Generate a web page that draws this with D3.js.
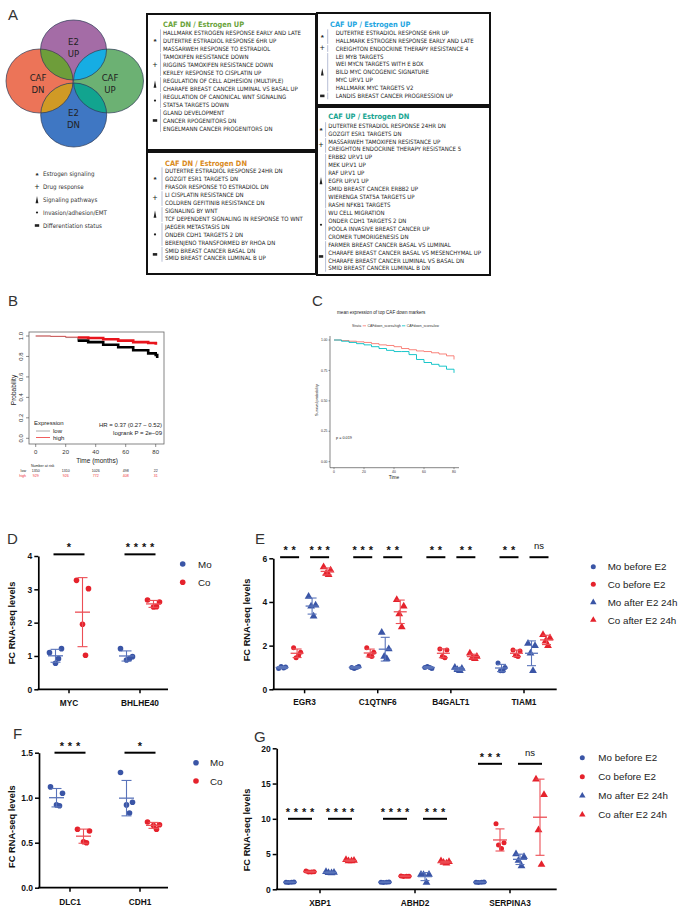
<!DOCTYPE html>
<html><head><meta charset="utf-8">
<script src="https://cdn.jsdelivr.net/npm/d3@7"></script>
<style>body{margin:0;background:#fff}svg{display:block}</style>
</head><body>
<svg id="fig" width="685" height="908"></svg>
<script>
// ---------------- DATA ----------------
const vennLabels = [["E2","UP"],["CAF","DN"],["CAF","UP"],["E2","DN"]];
const legendCategories = ["Estrogen signaling","Drug response","Signaling pathways","Invasion/adhesion/EMT","Differentiation status"];

const dnUpTitle = "CAF DN / Estrogen  UP";
const dnUpItems = ["HALLMARK ESTROGEN RESPONSE EARLY AND LATE","DUTERTRE ESTRADIOL RESPONSE 6HR UP","MASSARWEH RESPONSE TO ESTRADIOL","TAMOXIFEN RESISTANCE DOWN","RIGGINS TAMOXIFEN RESISTANCE DOWN","KERLEY RESPONSE TO CISPLATIN UP","REGULATION OF CELL ADHESION (MULTIPLE)","CHARAFE BREAST CANCER LUMINAL VS BASAL UP","REGULATION OF CANONICAL WNT SIGNALING","STAT5A TARGETS DOWN","GLAND DEVELOPMENT","CANCER RPOGENITORS DN","ENGELMANN CANCER PROGENITORS DN"];
const dnUpGroups = [3,3,2,2,3];
const dnUpTypes = [0,1,2,3,4];

const dnDnTitle = "CAF DN / Estrogen  DN";
const dnDnItems = ["DUTERTRE ESTRADIOL RESPONSE 24HR DN","GOZGIT ESR1 TARGETS DN","FRASOR RESPONSE TO ESTRADIOL DN","LI CISPLATIN RESISTANCE DN","COLDREN GEFITINIB RESISTANCE DN","SIGNALING BY WNT","TCF DEPENDENT SIGNALING IN RESPONSE TO WNT","JAEGER METASTASIS DN","ONDER CDH1 TARGETS 2 DN","BERENJENO TRANSFORMED BY RHOA DN","SMID BREAST CANCER BASAL DN","SMID BREAST CANCER LUMINAL B UP"];
const dnDnGroups = [3,2,2,3,2];
const dnDnTypes = [0,1,2,3,4];

const upUpTitle = "CAF UP / Estrogen  UP";
const upUpItems = ["DUTERTRE ESTRADIOL RESPONSE 6HR UP","HALLMARK ESTROGEN RESPONSE EARLY AND LATE","CREIGHTON ENDOCRINE THERAPY RESISTANCE 4","LEI MYB TARGETS","WEI MYCN TARGETS WITH E BOX","BILD MYC ONCOGENIC SIGNATURE","MYC UP.V1 UP","HALLMARK MYC TARGETS V2","LANDIS BREAST CANCER PROGRESSION UP"];
const upUpGroups = [2,1,5,1];
const upUpTypes = [0,1,2,4];

const upDnTitle = "CAF UP / Estrogen  DN";
const upDnItems = ["DUTERTRE ESTRADIOL RESPONSE 24HR DN","GOZGIT ESR1 TARGETS DN","MASSARWEH TAMOXIFEN RESISTANCE UP","CREIGHTON ENDOCRINE THERAPY RESISTANCE 5","ERBB2 UP.V1 UP","MEK UP.V1 UP","RAF UP.V1 UP","EGFR UP.V1 UP","SMID BREAST CANCER ERBB2 UP","WIERENGA STAT5A TARGETS UP","RASHI NFKB1 TARGETS","WU CELL MIGRATION","ONDER CDH1 TARGETS 2 DN","POOLA INVASIVE BREAST CANCER UP","CROMER TUMORIGENESIS DN","FARMER BREAST CANCER BASAL VS LUMINAL","CHARAFE BREAST CANCER BASAL VS MESENCHYMAL UP","CHARAFE BREAST CANCER LUMINAL VS BASAL DN","SMID BREAST CANCER LUMINAL B DN"];
const upDnGroups = [2,2,7,4,4];
const upDnTypes = [0,1,2,3,4];

// Panel B (KM)
const kmTime = [0,10,20,28,35,45,55,65,75,80,81];
const kmLow  = [1,0.995,0.985,0.955,0.94,0.915,0.89,0.86,0.83,0.815,0.785];
const kmHigh = [1,0.997,0.99,0.985,0.98,0.968,0.955,0.94,0.932,0.928,0.928];
const riskTimes = [0,20,40,60,80];
const riskLow = [1350,1310,1026,498,22];
const riskHigh = [929,926,772,408,31];
const kmTicksY = [0,0.2,0.4,0.6,0.8,1.0];
const kmTicksX = [0,20,40,60,80];

// Panel C
const cTime = [0,5,10,15,20,25,30,35,40,45,50,55,60,65,70,75,80];
const cHigh = [1,0.995,0.99,0.985,0.98,0.97,0.96,0.955,0.945,0.93,0.92,0.91,0.905,0.895,0.885,0.87,0.84];
const cLow  = [1,0.99,0.98,0.97,0.96,0.945,0.93,0.915,0.905,0.905,0.88,0.84,0.815,0.8,0.785,0.76,0.73];
const cTicksY = [0,0.25,0.5,0.75,1];
const cTicksX = [0,20,40,60,80];

// Panel D
const dGenes = ["MYC","BHLHE40"];
const dMo = [[1.1,1.22,0.78,0.92],[1.22,0.98,0.88,0.92]];
const dCo = [[3.27,3.02,1.95,1.02],[2.68,2.62,2.47,2.48]];
const dSig = [["*"],["****"]];
const dTicks = [0,1,2,3,4];

// Panel E
const eGenes = ["EGR3","C1QTNF6","B4GALT1","TIAM1"];
const eMoBefore = [[0.95,1.02,1.05,0.98],[1.0,1.05,0.95,1.0],[1.0,0.95,1.05,1.0],[1.2,1.0,0.85,0.85]];
const eCoBefore = [[1.9,1.7,1.45,1.55],[1.9,1.7,1.55,1.5],[1.85,1.8,1.5,1.45],[1.8,1.75,1.55,1.5]];
const eMoAfter  = [[4.25,3.85,3.8,3.35],[2.6,1.85,1.5,1.4],[1.0,0.95,0.9,0.85],[2.1,2.0,1.65,0.85]];
const eCoAfter  = [[5.6,5.45,5.3,5.25],[4.1,3.8,3.45,2.85],[1.65,1.5,1.45,1.4],[2.5,2.35,2.2,2.0]];
const eSig = [["**","***"],["***","**"],["**","**"],["**","ns"]];
const eTicks = [0,2,4,6];

// Panel F
const fGenes = ["DLC1","CDH1"];
const fMo = [[1.12,1.05,0.92,0.91],[1.28,0.95,0.92,0.83]];
const fCo = [[0.65,0.63,0.51,0.5],[0.73,0.7,0.69,0.65]];
const fSig = [["***"],["*"]];
const fTicks = [0,0.5,1.0,1.5];

// Panel G
const gGenes = ["XBP1","ABHD2","SERPINA3"];
const gMoBefore = [[1.0,1.05,0.95,1.0],[1.0,1.05,0.95,1.0],[1.0,1.05,0.95,1.0]];
const gCoBefore = [[2.6,2.5,2.45,2.45],[1.9,1.85,1.8,1.85],[9.3,6.6,6.3,5.8]];
const gMoAfter  = [[2.5,2.4,2.35,2.3],[2.1,2.1,2.05,0.95],[5.0,4.6,4.1,3.3]];
const gCoAfter  = [[4.2,4.1,4.0,4.0],[4.0,3.9,3.8,3.7],[15.6,13.4,8.4,3.5]];
const gSig = [["****","****"],["****","***"],["***","ns"]];
const gSigLevel = [10,10,17.8];
const gTicks = [0,5,10,15,20];

const twoSeries = ["Mo","Co"];
const fourSeries = ["Mo before E2","Co before E2","Mo after E2 24h","Co after E2 24h"];

// ---------------- DRAWING ----------------
const SANS = "'Liberation Sans', Arial, Helvetica, sans-serif";
const NARROW = "'Liberation Sans Narrow','DejaVu Sans Condensed','Liberation Sans',sans-serif";
const BLUE = "#3a55a6", RED = "#e5222c", BLUE_L = "#5a74ba", RED_L = "#ec4e55";
const svg = d3.select("#fig");
svg.append("rect").attr("width",685).attr("height",908).attr("fill","#fff");

function txt(g, x, y, s, o = {}) {
  const t = g.append("text").attr("x", x).attr("y", y).text(s)
    .attr("font-family", o.ff || SANS).attr("font-size", o.fs || 8)
    .attr("fill", o.fill || "#222");
  if (o.anchor) t.attr("text-anchor", o.anchor);
  if (o.fw) t.attr("font-weight", o.fw);
  if (o.rot) t.attr("transform", `rotate(${o.rot},${x},${y})`);
  if (o.ls) t.attr("letter-spacing", o.ls);
  return t;
}

// panel letters
[["A",8,20],["B",8,306],["C",312,306],["D",7,544],["E",255,544],["F",13,739],["G",254,742]]
  .forEach(([l,x,y]) => txt(svg,x,y,l,{fs:15,fill:"#333"}));

// ---- Venn ----
const ell = [{cx:73.5,cy:50,rx:33,ry:30,c:"#a46ca6"},{cx:39.5,cy:81,rx:33.5,ry:32,c:"#ec7458"},
             {cx:108.5,cy:81,rx:35,ry:32,c:"#6cb173"},{cx:73.7,cy:115,rx:33,ry:32,c:"#3f77c3"}];
const defs = svg.append("defs");
ell.forEach((e,i) => defs.append("clipPath").attr("id","ve"+i).append("ellipse")
  .attr("cx",e.cx).attr("cy",e.cy).attr("rx",e.rx).attr("ry",e.ry));
const vg = svg.append("g");
ell.forEach(e => vg.append("ellipse").attr("cx",e.cx).attr("cy",e.cy).attr("rx",e.rx).attr("ry",e.ry).attr("fill",e.c));
[[0,1,"#6e9d3a"],[0,2,"#16ade3"],[3,1,"#d09a25"],[3,2,"#12a48f"]].forEach(([a,b,c]) => {
  const e = ell[b];
  vg.append("ellipse").attr("cx",e.cx).attr("cy",e.cy).attr("rx",e.rx).attr("ry",e.ry)
    .attr("fill",c).attr("clip-path",`url(#ve${a})`);
});
ell.forEach(e => vg.append("ellipse").attr("cx",e.cx).attr("cy",e.cy).attr("rx",e.rx).attr("ry",e.ry)
  .attr("fill","none").attr("stroke","#2d3a55").attr("stroke-width",0.7));
const vpos = [[73.5,45,57],[38,81,93],[110,81,93],[73.5,116,128]];
vennLabels.forEach((l,i) => {
  txt(vg, vpos[i][0], vpos[i][1], l[0], {fs:9.5, anchor:"middle", ff:NARROW, fill:"#222"});
  txt(vg, vpos[i][0], vpos[i][2], l[1], {fs:9.5, anchor:"middle", ff:NARROW, fill:"#222"});
});

// symbols
function sym(g, type, x, y) {
  if (type === 0) txt(g, x, y+3.6, "*", {fs:8, anchor:"middle", fw:"bold", fill:"#222"});
  else if (type === 1) txt(g, x, y+2.9, "+", {fs:8.5, anchor:"middle", fill:"#222"});
  else if (type === 2) g.append("path").attr("d",`M${x},${y-4}L${x+1.4},${y+3.2}L${x-1.4},${y+3.2}Z`).attr("fill","#222");
  else if (type === 3) g.append("circle").attr("cx",x).attr("cy",y).attr("r",1.1).attr("fill","#222");
  else g.append("rect").attr("x",x-2.2).attr("y",y-1.3).attr("width",4.4).attr("height",2.6).attr("fill","#222");
}
const lg = svg.append("g");
legendCategories.forEach((c,i) => {
  const y = [174,187,200,212.5,225.5][i];
  sym(lg, i, 37, y);
  txt(lg, 43, y+2.2, c, {fs:6.2, ff:NARROW, fill:"#333"});
});

// ---- gene set boxes ----
const boxes = [
  {x:147,y:14,w:169,h:136,tx:163,ty:27,ix:163,iy:32.8,dy:7.97,lx:160.5,sx:155,color:"#6aa33a",title:dnUpTitle,items:dnUpItems,groups:dnUpGroups,types:dnUpTypes},
  {x:147,y:152,w:169,h:122,tx:165,ty:165.5,ix:165,iy:170.7,dy:7.97,lx:162,sx:155,color:"#d98a1d",title:dnDnTitle,items:dnDnItems,groups:dnDnGroups,types:dnDnTypes},
  {x:317,y:13,w:173,h:92,tx:330,ty:26.5,ix:335.7,iy:32.7,dy:7.9,lx:327.7,sx:322.3,color:"#1ea5df",title:upUpTitle,items:upUpItems,groups:upUpGroups,types:upUpTypes},
  {x:317,y:107,w:173,h:168,tx:328.3,ty:119.3,ix:328.3,iy:125.6,dy:7.93,lx:325.6,sx:321,color:"#18a592",title:upDnTitle,items:upDnItems,groups:upDnGroups,types:upDnTypes}
];
boxes.forEach(b => {
  const g = svg.append("g");
  g.append("rect").attr("x",b.x).attr("y",b.y).attr("width",b.w).attr("height",b.h)
    .attr("fill","none").attr("stroke","#111").attr("stroke-width",2);
  txt(g, b.tx, b.ty, b.title, {fs:7.4, ff:NARROW, fw:"bold", fill:b.color});
  b.items.forEach((it,i) => txt(g, b.ix, b.iy + i*b.dy + 2.1, it, {fs:6, ff:NARROW, fill:"#222"}));
  let start = 0;
  b.groups.forEach((n,gi) => {
    const y1 = b.iy + start*b.dy - b.dy/2 + 0.6, y2 = b.iy + (start+n-1)*b.dy + b.dy/2 - 0.6;
    g.append("line").attr("x1",b.lx).attr("x2",b.lx).attr("y1",y1).attr("y2",y2)
      .attr("stroke","#9aa3c4").attr("stroke-width",0.7);
    sym(g, b.types[gi], b.sx, (y1+y2)/2);
    start += n;
  });
});

// ---- Panel B: KM ----
(function(){
  const g = svg.append("g");
  const x = d3.scaleLinear().domain([0,80]).range([35.7,155.7]);
  const y = d3.scaleLinear().domain([0,1]).range([438.3,336]);
  g.append("rect").attr("x",29).attr("y",332).attr("width",135).attr("height",112)
    .attr("fill","none").attr("stroke","#666").attr("stroke-width",0.8);
  kmTicksY.forEach(v => {
    g.append("line").attr("x1",26).attr("x2",29).attr("y1",y(v)).attr("y2",y(v)).attr("stroke","#444").attr("stroke-width",0.6);
    txt(g, 23, y(v), v.toFixed(1), {fs:6, anchor:"middle", rot:-90, fill:"#333"});
  });
  kmTicksX.forEach(v => {
    g.append("line").attr("x1",x(v)).attr("x2",x(v)).attr("y1",444).attr("y2",447).attr("stroke","#444").attr("stroke-width",0.6);
    txt(g, x(v), 453.5, String(v), {fs:6, anchor:"middle", fill:"#333"});
  });
  txt(g, 15.5, 390, "Probability", {fs:6.5, anchor:"middle", rot:-90, fill:"#222"});
  txt(g, 97, 462.5, "Time (months)", {fs:6.5, anchor:"middle", fill:"#222"});
  const line = d3.line().x(d=>x(d[0])).y(d=>y(d[1])).curve(d3.curveStepAfter);
  const split = (ser, a, b) => kmTime.map((t,i)=>[t,ser[i]]).filter(d=>d[0]>=a && d[0]<=b);
  g.append("path").attr("d",line(split(kmLow,0,28))).attr("fill","none").attr("stroke","#777").attr("stroke-width",0.7);
  g.append("path").attr("d",line(split(kmHigh,0,28))).attr("fill","none").attr("stroke","#e33").attr("stroke-width",0.7);
  g.append("path").attr("d",line(split(kmLow,28,81))).attr("fill","none").attr("stroke","#000").attr("stroke-width",2.6);
  g.append("path").attr("d",line(split(kmHigh,28,81))).attr("fill","none").attr("stroke","#e8141c").attr("stroke-width",2.6);
  txt(g, 34, 425, "Expression", {fs:6, fill:"#222"});
  g.append("line").attr("x1",36).attr("x2",50).attr("y1",431).attr("y2",431).attr("stroke","#aaa").attr("stroke-width",1);
  g.append("line").attr("x1",36).attr("x2",50).attr("y1",437.5).attr("y2",437.5).attr("stroke","#e33").attr("stroke-width",0.8);
  txt(g, 53, 433, "low", {fs:6, fill:"#222"});
  txt(g, 53, 439.5, "high", {fs:6, fill:"#222"});
  txt(g, 162, 427, "HR = 0.37 (0.27 \u2212 0.52)", {fs:6, anchor:"end", fill:"#222"});
  txt(g, 162, 435, "logrank P = 2e\u221209", {fs:6, anchor:"end", fill:"#222"});
  txt(g, 31, 467, "Number at risk", {fs:3.6, fill:"#222"});
  txt(g, 26, 472, "low", {fs:3.6, anchor:"end", fill:"#222"});
  txt(g, 26, 477, "high", {fs:3.6, anchor:"end", fill:"#e33"});
  riskTimes.forEach((t,i) => {
    txt(g, x(t), 472, String(riskLow[i]), {fs:3.6, anchor:"middle", fill:"#222"});
    txt(g, x(t), 477, String(riskHigh[i]), {fs:3.6, anchor:"middle", fill:"#e33"});
  });
})();

// ---- Panel C ----
(function(){
  const g = svg.append("g");
  const x = d3.scaleLinear().domain([0,80]).range([334,454]);
  const y = d3.scaleLinear().domain([0,1]).range([461.7,340]);
  txt(g, 337, 314, "mean expression of top CAF down markers", {fs:4.6, fill:"#222"});
  txt(g, 352, 327, "Strata", {fs:3.4, fill:"#333"});
  g.append("line").attr("x1",362.7).attr("x2",366).attr("y1",325.8).attr("y2",325.8).attr("stroke","#f8766d").attr("stroke-width",0.8);
  txt(g, 367.5, 327, "CAFdown_score=high", {fs:3.4, fill:"#333"});
  g.append("line").attr("x1",402).attr("x2",405.3).attr("y1",325.8).attr("y2",325.8).attr("stroke","#00bfc4").attr("stroke-width",0.8);
  txt(g, 406.8, 327, "CAFdown_score=low", {fs:3.4, fill:"#333"});
  g.append("line").attr("x1",330).attr("x2",330).attr("y1",336).attr("y2",467.7).attr("stroke","#333").attr("stroke-width",0.6);
  g.append("line").attr("x1",330).attr("x2",459).attr("y1",467.7).attr("y2",467.7).attr("stroke","#333").attr("stroke-width",0.6);
  cTicksY.forEach(v => {
    g.append("line").attr("x1",328.5).attr("x2",330).attr("y1",y(v)).attr("y2",y(v)).attr("stroke","#333").attr("stroke-width",0.5);
    txt(g, 327.5, y(v)+1.2, v.toFixed(2), {fs:3.4, anchor:"end", fill:"#333"});
  });
  cTicksX.forEach(v => {
    g.append("line").attr("x1",x(v)).attr("x2",x(v)).attr("y1",467.7).attr("y2",469.2).attr("stroke","#333").attr("stroke-width",0.5);
    txt(g, x(v), 473.3, String(v), {fs:3.4, anchor:"middle", fill:"#333"});
  });
  txt(g, 317.5, 400, "Survival probability", {fs:3.8, anchor:"middle", rot:-90, fill:"#222"});
  txt(g, 394, 479, "Time", {fs:4.8, anchor:"middle", fill:"#222"});
  txt(g, 336, 439, "p = 0.019", {fs:3.8, fill:"#222"});
  const line = d3.line().x((d,i)=>x(cTime[i])).y(d=>y(d)).curve(d3.curveStepAfter);
  g.append("path").attr("d",line(cHigh)).attr("fill","none").attr("stroke","#f8766d").attr("stroke-width",0.9);
  g.append("path").attr("d",line(cLow)).attr("fill","none").attr("stroke","#00bfc4").attr("stroke-width",0.9);
})();

// ---- dot plot panels ----
function dotPanel(o) {
  const g = svg.append("g");
  const y = d3.scaleLinear().domain(o.yDomain).range([o.y0, o.y1]);
  const x = d3.scalePoint().domain(o.genes).range(o.catRange);
  const ya = g.append("g").attr("transform",`translate(${o.ax},0)`)
    .call(d3.axisLeft(y).tickValues(o.ticks).tickSize(4).tickSizeOuter(0).tickPadding(2).tickFormat(o.fmt));
  ya.select(".domain").attr("stroke","#000").attr("stroke-width",1.7);
  ya.selectAll(".tick line").attr("stroke","#000").attr("stroke-width",1.5);
  ya.selectAll(".tick text").attr("font-family",SANS).attr("font-size",8.5).attr("font-weight","bold").attr("fill","#111");
  g.append("line").attr("x1",o.ax-0.8).attr("x2",o.xEnd).attr("y1",o.y0).attr("y2",o.y0).attr("stroke","#000").attr("stroke-width",1.7);
  o.genes.forEach(gn => {
    g.append("line").attr("x1",x(gn)).attr("x2",x(gn)).attr("y1",o.y0).attr("y2",o.y0+4).attr("stroke","#000").attr("stroke-width",1.5);
    txt(g, x(gn), o.labelY, gn, {fs:8.3, fw:"bold", anchor:"middle", fill:"#111"});
  });
  txt(g, o.ylabX, o.ylabY, "FC RNA-seq levels", {fs:9.3, fw:"bold", anchor:"middle", rot:-90, fill:"#111"});
  const jit = o.jitter;
  o.series.forEach((s, si) => {
    s.values.forEach((vals, gi) => {
      const cx = x(o.genes[gi]) + o.offsets[si];
      const m = d3.mean(vals), sd = d3.deviation(vals);
      const lc = s.lc;
      vals.forEach((v,k) => {
        const px = cx + jit[k % jit.length], py = y(v);
        if (s.shape === "circle") g.append("circle").attr("cx",px).attr("cy",py).attr("r",o.r).attr("fill",s.color);
        else g.append("path").attr("d",d3.symbol(d3.symbolTriangle, o.r*o.r*4.2)()).attr("transform",`translate(${px},${py})`).attr("fill",s.color);
      });
      g.append("line").attr("x1",cx).attr("x2",cx).attr("y1",y(m-sd)).attr("y2",y(m+sd)).attr("stroke",lc).attr("stroke-width",1.1);
      [m-sd, m+sd].forEach(v => g.append("line").attr("x1",cx-o.cap).attr("x2",cx+o.cap).attr("y1",y(v)).attr("y2",y(v)).attr("stroke",lc).attr("stroke-width",1.1));
      g.append("line").attr("x1",cx-o.mw).attr("x2",cx+o.mw).attr("y1",y(m)).attr("y2",y(m)).attr("stroke",lc).attr("stroke-width",1.3);
    });
  });
  o.sig.forEach((labels, gi) => {
    labels.forEach((lab, pi) => {
      const [a,b] = o.pairs[pi];
      const xa = x(o.genes[gi]) + o.offsets[a] - 2, xb = x(o.genes[gi]) + o.offsets[b] + 2;
      const by = y(o.sigLevel[gi]);
      g.append("line").attr("x1",xa).attr("x2",xb).attr("y1",by).attr("y2",by).attr("stroke","#000").attr("stroke-width",2);
      const cx = (xa+xb)/2;
      if (lab === "ns") txt(g, cx, by-7.8, "ns", {fs:9.5, anchor:"middle", fill:"#111"});
      else txt(g, cx + 1.9, by-3.2, lab, {fs:11, fw:"bold", anchor:"middle", ls:3.8, fill:"#111"});
    });
  });
  o.series.forEach((s, si) => {
    const ly = o.legY[si];
    if (s.shape === "circle") g.append("circle").attr("cx",o.legX).attr("cy",ly).attr("r",o.r).attr("fill",s.color);
    else g.append("path").attr("d",d3.symbol(d3.symbolTriangle, 18)()).attr("transform",`translate(${o.legX},${ly})`).attr("fill",s.color);
    txt(g, o.legTX, ly+3.5, s.name, {fs:9.8, fill:"#222"});
  });
}

const serie2 = (mo, co) => [
  {name:twoSeries[0], values:mo, color:BLUE, lc:BLUE_L, shape:"circle"},
  {name:twoSeries[1], values:co, color:RED, lc:RED_L, shape:"circle"}];
const serie4 = (a,b,c,d) => [
  {name:fourSeries[0], values:a, color:BLUE, lc:BLUE_L, shape:"circle"},
  {name:fourSeries[1], values:b, color:RED, lc:RED_L, shape:"circle"},
  {name:fourSeries[2], values:c, color:BLUE, lc:BLUE_L, shape:"tri"},
  {name:fourSeries[3], values:d, color:RED, lc:RED_L, shape:"tri"}];

dotPanel({genes:dGenes, series:serie2(dMo,dCo), yDomain:[0,4], y0:689.3, y1:556, ticks:dTicks, fmt:d3.format("d"),
  ax:38.3, xEnd:168, catRange:[69,140], offsets:[-13.5,13.5], labelY:706, ylabX:15, ylabY:623,
  jitter:[-6,6,0,3], r:2.8, cap:5, mw:7.5, sig:dSig, pairs:[[0,1]], sigLevel:[4.05,4.05],
  legX:182.7, legTX:198, legY:[564,582.3]});

dotPanel({genes:eGenes, series:serie4(eMoBefore,eCoBefore,eMoAfter,eCoAfter), yDomain:[0,6], y0:689.3, y1:558.3, ticks:eTicks, fmt:d3.format("d"),
  ax:273.3, xEnd:556.7, catRange:[304.6,524], offsets:[-22.5,-7.5,7.5,22.5], labelY:704.7, ylabX:250, ylabY:620,
  jitter:[-3.5,3.5,-1,1.5], r:2.5, cap:4.5, mw:6.5, sig:eSig, pairs:[[0,1],[2,3]], sigLevel:[6.05,6.05,6.05,6.05],
  legX:593.3, legTX:607.7, legY:[566.7,584.3,602.3,620]});

dotPanel({genes:fGenes, series:serie2(fMo,fCo), yDomain:[0,1.5], y0:887.7, y1:752.7, ticks:fTicks, fmt:d3.format(".1f"),
  ax:39, xEnd:168, catRange:[70,140], offsets:[-13.5,13.5], labelY:904.7, ylabX:15, ylabY:826.7,
  jitter:[-6,6,0,3], r:2.8, cap:5, mw:7.5, sig:fSig, pairs:[[0,1]], sigLevel:[1.5,1.5],
  legX:196, legTX:210, legY:[762.7,781]});

dotPanel({genes:gGenes, series:serie4(gMoBefore,gCoBefore,gMoAfter,gCoAfter), yDomain:[0,20], y0:889.3, y1:748.3, ticks:gTicks, fmt:d3.format("d"),
  ax:276.7, xEnd:556.7, catRange:[320,510], offsets:[-30,-10,10,30], labelY:905.7, ylabX:250, ylabY:830,
  jitter:[-4,4,-1.5,1.5], r:2.5, cap:4.5, mw:7, sig:gSig, pairs:[[0,1],[2,3]], sigLevel:gSigLevel,
  legX:582.3, legTX:598.3, legY:[757.7,776.7,795.7,814.7]});
</script>
</body></html>
